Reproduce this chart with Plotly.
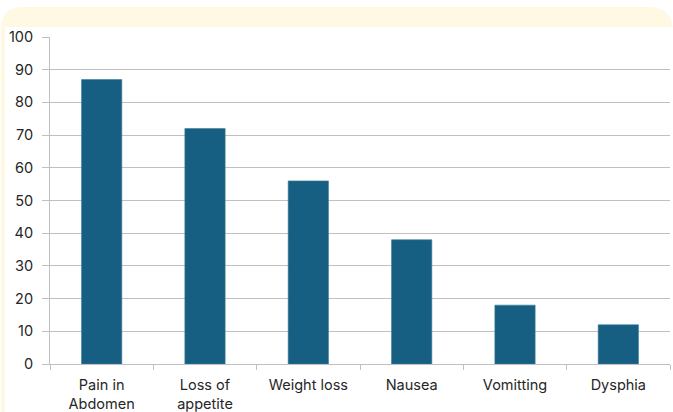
import plotly.graph_objects as go

# Symptom frequencies
symptoms = ["Pain in<br>Abdomen", "Loss of<br>appetite", "Weight loss", "Nausea", "Vomitting", "Dysphia"]
counts = [87, 72, 56, 38, 18, 12]
y_ticks = [0, 10, 20, 30, 40, 50, 60, 70, 80, 90, 100]

W, H = 673, 412
L, R, T, B = 50, 3, 37, 48
pw, ph = W - L - R, H - T - B


def px(x):
    return (x - L) / pw


def py(y):
    return (H - B - y) / ph


BAR = "#175f82"
GRID = "#c0c0c0"
TEXT = "#262626"
FRAME = "#fff8e3"
FONT = "Inter, Lato, sans-serif"

fig = go.Figure(
    go.Bar(
        x=symptoms,
        y=counts,
        marker=dict(color=BAR, line=dict(color="#3d7d9c", width=0.6)),
        width=0.39,
    )
)

# rounded cream frame behind the chart, with a white panel inside
r1, r2 = 22, 25
x0, x1, y0 = 1, 673, 7
frame_path = (
    f"M {px(x0)},{py(H)} "
    f"L {px(x0)},{py(y0 + r1)} "
    f"Q {px(x0)},{py(y0)} {px(x0 + r1)},{py(y0)} "
    f"L {px(x1 - r2)},{py(y0)} "
    f"Q {px(x1)},{py(y0)} {px(x1)},{py(y0 + r2)} "
    f"L {px(x1)},{py(H)} Z"
)
shapes = [
    dict(type="path", xref="paper", yref="paper", path=frame_path,
         fillcolor=FRAME, line=dict(width=0), layer="below"),
    dict(type="rect", xref="paper", yref="paper",
         x0=px(5), x1=px(673), y0=py(H), y1=py(27),
         fillcolor="white", line=dict(width=0), layer="below"),
]

fig.update_layout(
    width=W,
    height=H,
    margin=dict(l=L, r=R, t=T, b=B),
    paper_bgcolor="white",
    plot_bgcolor="rgba(0,0,0,0)",
    showlegend=False,
    bargap=0.61,
    shapes=shapes,
    font=dict(family=FONT, size=14.5, color=TEXT),
    xaxis=dict(
        automargin=False,
        showline=True,
        linecolor=GRID,
        linewidth=1,
        ticks="outside",
        tickson="boundaries",
        ticklen=5,
        tickcolor=GRID,
        showgrid=False,
        ticklabelstandoff=8,
        tickfont=dict(family=FONT, size=14.5, color=TEXT),
    ),
    yaxis=dict(
        automargin=False,
        range=[0, 100],
        tickvals=y_ticks,
        showline=True,
        linecolor=GRID,
        linewidth=1,
        ticks="outside",
        ticklen=7,
        tickcolor=GRID,
        showgrid=True,
        gridcolor=GRID,
        gridwidth=1,
        zeroline=False,
        ticklabelstandoff=6,
        tickfont=dict(family=FONT, size=14.5, color=TEXT),
    ),
)

fig.write_html("out.html")
